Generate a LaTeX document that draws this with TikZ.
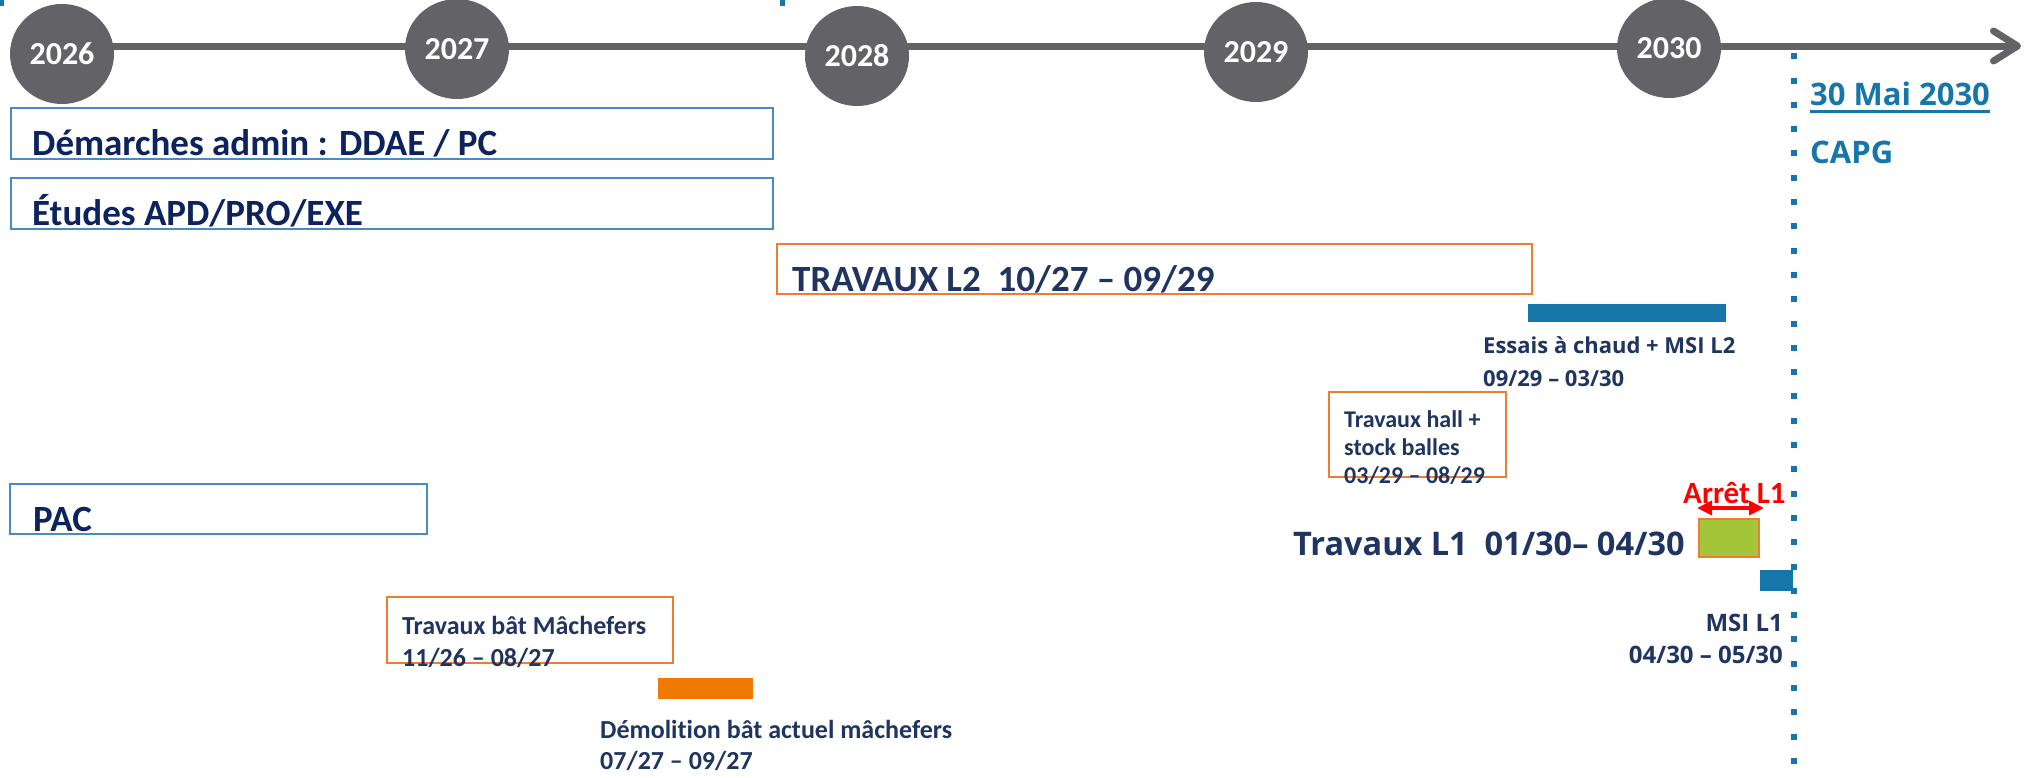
\documentclass[tikz,border=0pt]{standalone}
\usepackage{fontspec}
\setmainfont{Carlito}[Ligatures=NoCommon]
\newfontfamily\osans{Open Sans}
\usetikzlibrary{arrows.meta,calc,shapes.geometric}
\definecolor{axisgray}{RGB}{99,98,102}
\definecolor{navyA}{RGB}{12,35,94}
\definecolor{navyB}{RGB}{31,52,96}
\definecolor{boxblue}{RGB}{70,140,195}
\definecolor{boxorange}{RGB}{237,125,49}
\definecolor{barblue}{RGB}{22,118,170}
\definecolor{barorange}{RGB}{240,122,0}
\definecolor{limegreen}{RGB}{163,197,58}
\definecolor{alertred}{RGB}{255,0,0}
\tikzset{
  yearc/.style={ellipse, fill=axisgray, minimum width=104pt, minimum height=100pt, inner sep=0pt,
    text=white, font=\fontsize{32}{32}\selectfont\bfseries},
  axisline/.style={draw=axisgray, line width=7pt},
  bluebox/.style={draw=boxblue, line width=1.5pt, inner sep=0pt, anchor=north west},
  orangebox/.style={draw=boxorange, line width=1.5pt, inner sep=0pt, anchor=north west},
  bigl/.style={inner sep=0pt, anchor=base west, text=navyA, font=\fontsize{37}{40}\selectfont\bfseries},
  midl/.style={inner sep=0pt, anchor=base west, text=navyB},
  bar/.style={inner sep=0pt, anchor=north west},
}
\begin{document}
\begin{tikzpicture}[x=1pt,y=-1pt]
\useasboundingbox (0,0) rectangle (2029,777);
% top marks
\fill[barblue] (0,0) rectangle (4,6);
\fill[barblue] (780,0) rectangle (785,6);
% dotted deadline line
\coordinate (dtop) at (1794,53.2);
\coordinate (dbot) at (1794,777);
\draw[barblue, line width=6pt, dash pattern=on 6pt off 18.3pt] (dtop) -- (dbot);
% axis
\coordinate (axisstart) at (62,46);
\coordinate (axisend) at (2021,46);
\draw[axisline, -{Straight Barb[length=24pt, width=30pt, round]}] (axisstart) -- (axisend);
\node[yearc] (y26) at (62,54) {\raisebox{-2pt}{2026}};
\node[yearc] (y27) at (457,49) {\raisebox{-1pt}{2027}};
\node[yearc] (y28) at (857,56) {\raisebox{-2pt}{2028}};
\node[yearc] (y29) at (1256,52) {\raisebox{-1pt}{2029}};
\node[yearc] (y30) at (1669,48) {\raisebox{-1pt}{2030}};
% deadline
\node[inner sep=0pt, anchor=base west, text=barblue, font=\fontsize{31}{34}\osans\bfseries] (mai) at (1810,105) {30 Mai 2030};
\draw[barblue, line width=3pt] ($(mai.base west)+(0,6)$) -- ($(mai.base east)+(0,6)$);
\node[inner sep=0pt, anchor=base west, text=barblue, font=\fontsize{31}{34}\osans\bfseries] (capg) at (1810,163) {CAPG};
% left boxes
\node[bluebox, minimum width=762pt, minimum height=51pt] (dembox) at (10,107) {};
\node[bigl] (demtxt) at (32,155) {Démarches admin : DDAE / PC};
\node[bluebox, minimum width=762pt, minimum height=51pt] (etubox) at (10,177) {};
\node[bigl] (etutxt) at (32,225) {Études APD/PRO/EXE};
\node[bluebox, minimum width=417pt, minimum height=50pt] (pacbox) at (9,483) {};
\node[bigl] (pactxt) at (33,531) {PAC};
% travaux L2
\node[orangebox, minimum width=755pt, minimum height=50pt] (l2box) at (776,243) {};
\node[bigl, text=navyB] (l2txt) at (792,291) {TRAVAUX L2\ \ 10/27 – 09/29};
% essais
\node[bar, fill=barblue, minimum width=198pt, minimum height=18pt] (essbar) at (1528,304) {};
\node[midl, font=\fontsize{22}{33}\osans\bfseries] (esstxt) at (1483,353)
  {\begin{tabular}[t]{@{}l@{}}Essais à chaud + MSI L2\\09/29 – 03/30\end{tabular}};
% travaux hall
\node[orangebox, minimum width=177pt, minimum height=85pt] (hallbox) at (1328,391) {};
\node[midl, font=\fontsize{24}{28}\selectfont\bfseries] (halltxt) at (1344,427)
  {\begin{tabular}[t]{@{}l@{}}Travaux hall +\\stock balles\\03/29 – 08/29\end{tabular}};
% arret L1
\node[inner sep=0pt, anchor=base west, text=alertred, font=\fontsize{31}{34}\selectfont\bfseries] (arret) at (1683,503) {Arrêt L1};
\coordinate (arrL) at (1697,508);
\coordinate (arrR) at (1764,508);
\draw[alertred, line width=4pt, {Triangle[length=15pt,width=14pt]}-{Triangle[length=15pt,width=14pt]}] (arrL) -- (arrR);
\node[bar, fill=limegreen, draw=boxorange, line width=2pt, minimum width=60pt, minimum height=38pt] (l1box) at (1698,518) {};
\node[midl, font=\fontsize{32.5}{36}\osans\bfseries] (l1txt) at (1293,555) {Travaux L1\ \ 01/30– 04/30};
% MSI L1
\node[bar, fill=barblue, minimum width=33pt, minimum height=21pt] (msibar) at (1760,570) {};
\node[inner sep=0pt, anchor=base east, text=navyB, font=\fontsize{24}{32}\osans\bfseries] (msitxt) at (1783,631)
  {\begin{tabular}[t]{@{}r@{}}MSI L1\\04/30 – 05/30\end{tabular}};
% machefers
\node[orangebox, minimum width=286pt, minimum height=66pt] (machbox) at (386,596) {};
\node[midl, font=\fontsize{26}{32}\selectfont\bfseries] (machtxt) at (402,634)
  {\begin{tabular}[t]{@{}l@{}}Travaux bât Mâchefers\\11/26 – 08/27\end{tabular}};
\node[bar, fill=barorange, minimum width=95pt, minimum height=21pt] (dembar) at (658,678) {};
\node[midl, font=\fontsize{26}{31}\selectfont\bfseries] (demotxt) at (600,738)
  {\begin{tabular}[t]{@{}l@{}}Démolition bât actuel mâchefers\\07/27 – 09/27\end{tabular}};
\end{tikzpicture}
\end{document}
